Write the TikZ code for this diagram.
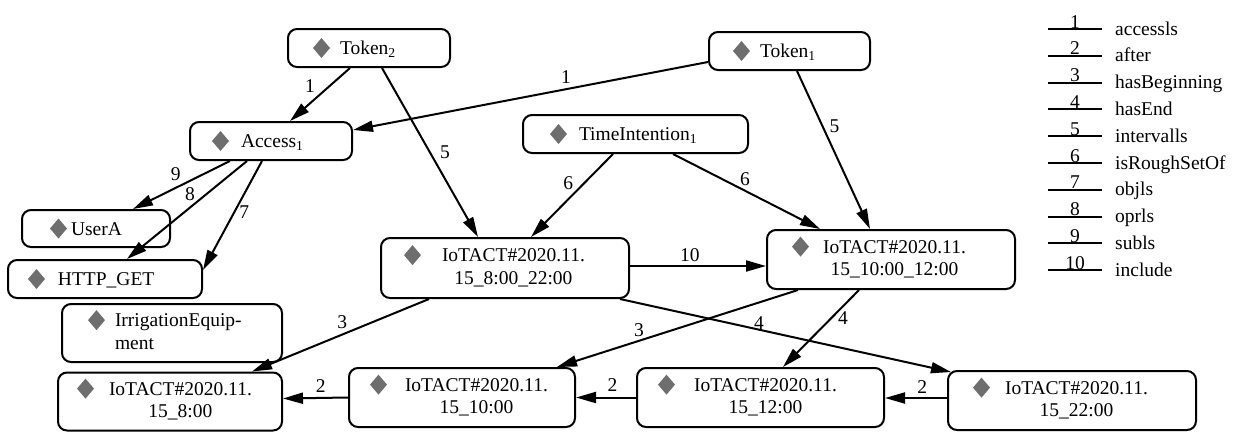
\documentclass[tikz,border=0pt]{standalone}
\usepackage{fontspec}
\setmainfont{Liberation Serif}
\usetikzlibrary{arrows.meta}
\definecolor{diagray}{HTML}{6E6E6E}
\newcommand\nodefont{\fontsize{19.5}{22.5}\selectfont}
% grey diamond marker placed in front of every entity name
\newcommand\dia{\tikz[baseline=0pt,sharp corners]\fill[diagray] (0pt,6.5pt)--(8.5pt,16.5pt)--(17pt,6.5pt)--(8.5pt,-3.5pt)--cycle;}
% #1 box width, #2 offset of the diamond, #3 offset of the text, #4 text
\newcommand\cardbox[4]{\makebox[#1pt][l]{\hspace*{#2pt}\dia\hspace*{\dimexpr#3pt-#2pt-17pt\relax}#4}}
\newcommand\two[2]{\begin{tabular}[t]{@{}c@{}}#1\\#2\end{tabular}}
\tikzset{
  card/.style={draw, line width=2pt, rounded corners=9pt, inner sep=0pt, font=\nodefont},
  rel/.style={line width=2pt, -{Triangle[length=20pt,width=11pt]}},
  lab/.style={font=\nodefont, inner sep=0pt},
}
\begin{document}
\begin{tikzpicture}[x=1pt,y=-1pt]
\useasboundingbox (0,0) rectangle (1241,432);

% entities
\node[card, minimum height=38pt] (token2) at (369,48) {\cardbox{162}{25}{52}{Token\textsubscript{2}}};
\node[card, minimum height=38pt] (token1) at (789.5,51) {\cardbox{161}{24}{51}{Token\textsubscript{1}}};
\node[card, minimum height=38pt] (access) at (271,141) {\cardbox{162}{22}{51}{Access\textsubscript{1}}};
\node[card, minimum height=38pt] (timei) at (635.5,134) {\cardbox{225}{27}{56}{TimeIntention\textsubscript{1}}};
\node[card, minimum height=37pt] (usera) at (96,228.5) {\cardbox{148}{28}{49}{UserA}};
\node[card, minimum height=38pt] (httpget) at (105,279) {\cardbox{194}{20}{50}{HTTP\_GET}};
\node[card, minimum height=58pt] (irrig) at (172,333) {\cardbox{220}{26}{53}{\begin{tabular}[t]{@{}l@{}}IrrigationEquip-\\ment\end{tabular}}};
\node[card, minimum height=60pt] (iot822) at (505,268) {\cardbox{248}{23}{61}{\two{IoTACT\#2020.11.}{15\_8:00\_22:00}}};
\node[card, minimum height=59pt] (iot1012) at (891,259.5) {\cardbox{248}{25}{56}{\two{IoTACT\#2020.11.}{15\_10:00\_12:00}}};
\node[card, minimum height=58pt] (iot8) at (170,401.5) {\cardbox{224}{19}{51}{\two{IoTACT\#2020.11.}{15\_8:00}}};
\node[card, minimum height=59pt] (iot10) at (462,397.5) {\cardbox{226}{21}{56}{\two{IoTACT\#2020.11.}{15\_10:00}}};
\node[card, minimum height=59pt] (iot12) at (760.5,397.5) {\cardbox{247}{21}{57}{\two{IoTACT\#2020.11.}{15\_12:00}}};
\node[card, minimum height=59pt] (iot22) at (1072,400.5) {\cardbox{248}{25}{57}{\two{IoTACT\#2020.11.}{15\_22:00}}};

% relations
\draw[rel] ([xshift=-19pt]token2.south) -- node[lab, pos=.5, xshift=-10pt, yshift=8.5pt] (e1) {1} ([xshift=19pt]access.north);
\draw[rel] ([yshift=-11pt]token1.west) -- node[lab, pos=.4, yshift=12pt] (e2) {1} ([yshift=11pt]access.east);
\draw[rel] ([xshift=13pt]token2.south) -- node[lab, pos=.5, xshift=15pt] (e3) {5} ([xshift=-27pt]iot822.north);
\draw[rel] ([xshift=7.5pt]token1.south) -- node[lab, pos=.35, xshift=12pt] (e4) {5} ([xshift=-21pt]iot1012.north);
\draw[rel] ([xshift=-22.5pt]timei.south) -- node[lab, pos=.35, xshift=-16pt] (e5) {6} ([xshift=26pt]iot822.north);
\draw[rel] ([xshift=37.5pt]timei.south) -- node[lab, pos=.49, yshift=12pt] (e6) {6} ([xshift=-71pt]iot1012.north);
\draw[rel] ([xshift=-41pt]access.south) -- node[lab, pos=.56, yshift=14pt] (e7) {9} ([xshift=37pt]usera.north);
\draw[rel] ([xshift=-24pt]access.south) -- node[lab, pos=.475, yshift=13pt] (e8) {8} ([xshift=22pt]httpget.north);
\draw[rel] ([xshift=-9pt]access.south) -- node[lab, pos=.47, xshift=10pt] (e9) {7} ([yshift=9pt]httpget.east);
\draw[rel] ([yshift=2pt]iot822.east) -- node[lab, pos=.44, yshift=11pt] (e10) {10} ([yshift=-6.5pt]iot1012.west);
\draw[rel] ([xshift=-76pt]iot822.south) -- node[lab, pos=.49, yshift=12pt] (e11) {3} ([xshift=82pt]iot8.north);
\draw[rel] ([xshift=115pt]iot822.south) -- node[lab, pos=.42, yshift=7pt] (e12) {4} ([xshift=4pt,yshift=-2pt]iot22.north west);
\draw[rel] ([xshift=-93pt]iot1012.south) -- node[lab, pos=.66, yshift=10.5pt] (e13) {3} ([xshift=95pt]iot10.north);
\draw[rel] ([xshift=-32pt]iot1012.south) -- node[lab, pos=.37, xshift=12pt] (e14) {4} ([xshift=22.5pt]iot12.north);
\draw[rel] ([yshift=2.5pt]iot22.west) -- node[lab, pos=.4, yshift=11pt] (e15) {2} ([yshift=-0.5pt]iot12.east);
\draw[rel] (iot12.west) -- node[lab, pos=.39, yshift=12pt] (e16) {2} (iot10.east);
\draw[rel] (iot10.west) -- node[lab, pos=.42, yshift=12pt] (e17) {2} ([yshift=3pt]iot8.east);

% key of relation numbers
\foreach \n/\t [count=\k] in {1/accessls, 2/after, 3/hasBeginning, 4/hasEnd, 5/intervalls,
    6/isRoughSetOf, 7/objls, 8/oprls, 9/subls, 10/include} {
  \pgfmathsetmacro\ly{29+26.8*(\k-1)}
  \draw[line width=2pt] (1048,\ly) -- (1102,\ly);
  \node[lab, anchor=base] (keynum\k) at (1075,\ly-1) {\n};
  \node[lab, anchor=base west] (keyname\k) at (1115,\ly+6) {\t};
}
\end{tikzpicture}
\end{document}
